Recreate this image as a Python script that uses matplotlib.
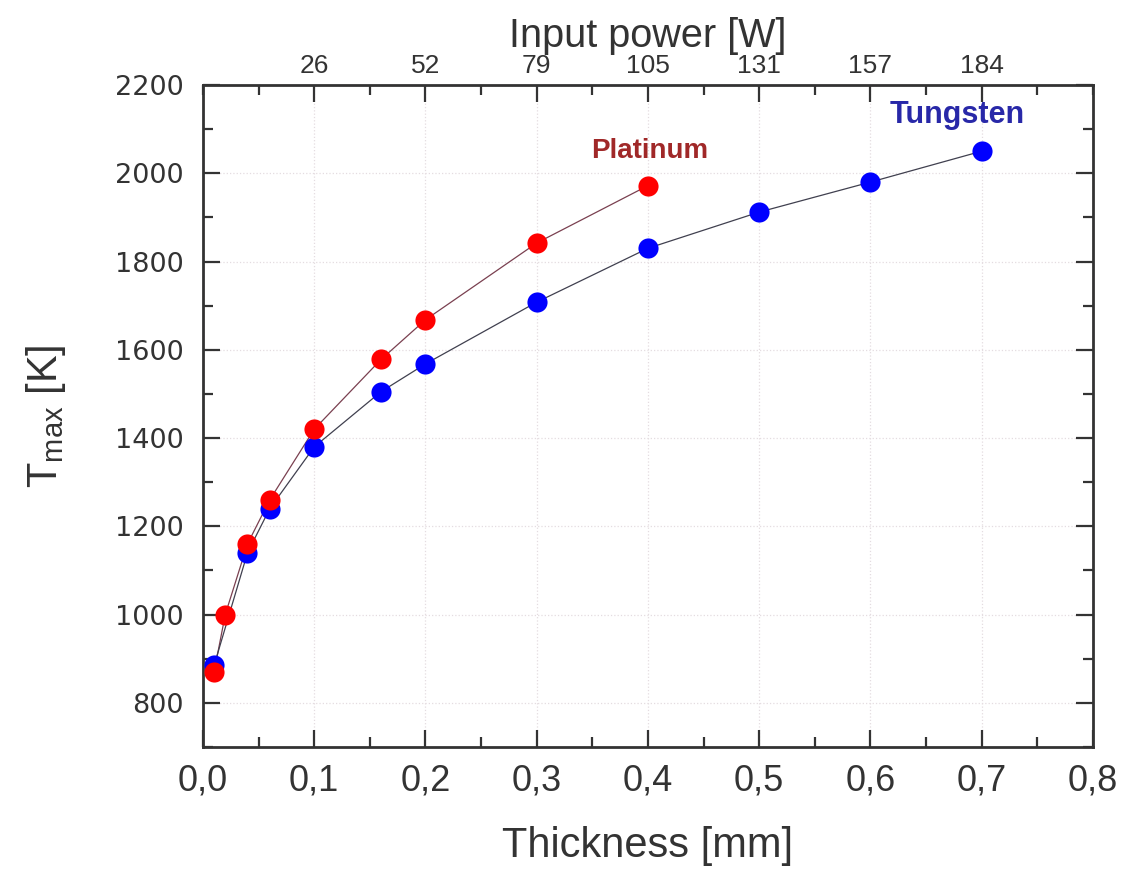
import matplotlib
matplotlib.use("Agg")
import matplotlib.pyplot as plt
from matplotlib import font_manager
from matplotlib.ticker import FixedLocator, MultipleLocator, FuncFormatter

# ── data ──────────────────────────────────────────────────────────────────────
pt_thickness = [0.01, 0.02, 0.04, 0.06, 0.10, 0.16, 0.20, 0.30, 0.40]
pt_tmax      = [870, 1000, 1160, 1260, 1420, 1578, 1668, 1842, 1972]

w_thickness  = [0.01, 0.04, 0.06, 0.10, 0.16, 0.20, 0.30, 0.40, 0.50, 0.60, 0.70]
w_tmax       = [885, 1140, 1240, 1380, 1505, 1568, 1708, 1830, 1912, 1980, 2050]

power_ticks  = [0.1, 0.2, 0.3, 0.4, 0.5, 0.6, 0.7]
power_labels = ["26", "52", "79", "105", "131", "157", "184"]

# ── fonts ─────────────────────────────────────────────────────────────────────
names = {f.name for f in font_manager.fontManager.ttflist}
SANS   = "Liberation Sans" if "Liberation Sans" in names else "DejaVu Sans"
NARROW = "Liberation Sans Narrow" if "Liberation Sans Narrow" in names else SANS
plt.rcParams["font.family"] = [SANS, "DejaVu Sans"]
plt.rcParams["mathtext.fontset"] = "custom"
plt.rcParams["mathtext.rm"] = SANS

TXT = "#333333"

fig = plt.figure(figsize=(11.24, 8.69), dpi=100)
ax = fig.add_axes([0.1806, 0.1404, 0.7918, 0.7618])

ax.plot(pt_thickness, pt_tmax, "-", color="#7a4050", lw=0.9, zorder=2)
ax.plot(w_thickness, w_tmax, "-", color="#40404f", lw=0.9, zorder=2)
ax.plot(w_thickness, w_tmax, "o", color="#0000ff", ms=14.5, mec="none", zorder=3)
ax.plot(pt_thickness, pt_tmax, "o", color="#ff0000", ms=14.5, mec="none", zorder=4)

ax.set_xlim(0, 0.8)
ax.set_ylim(700, 2200)
ax.xaxis.set_major_locator(MultipleLocator(0.1))
ax.xaxis.set_minor_locator(MultipleLocator(0.05))
ax.yaxis.set_major_locator(FixedLocator(range(800, 2201, 200)))
ax.yaxis.set_minor_locator(MultipleLocator(100))
ax.xaxis.set_major_formatter(FuncFormatter(lambda v, p: f"{v:.1f}".replace(".", ",")))

ax.grid(True, which="major", color="#e4dce0", lw=0.9, ls=":")
ax.set_axisbelow(True)

for s in ax.spines.values():
    s.set_linewidth(2.0)
    s.set_color(TXT)

ax.tick_params(which="both", direction="in", color=TXT, width=1.6,
               top=False, right=True, labelcolor=TXT)
ax.tick_params(which="major", length=12)
ax.tick_params(which="minor", length=7)
ax.tick_params(axis="x", which="major", pad=12)
ax.tick_params(axis="y", which="major", pad=14)

for lab in ax.get_xticklabels():
    lab.set_family(NARROW)
    lab.set_fontsize(26)
for lab in ax.get_yticklabels():
    lab.set_family("DejaVu Sans")
    lab.set_fontsize(19.5)

ax.set_xlabel("Thickness [mm]", fontsize=30, color=TXT, labelpad=20, family=NARROW)
ax.set_ylabel(r"T$_{\mathregular{max}}$ [K]", fontsize=30, color=TXT, labelpad=34)

# ── top axis: input power ─────────────────────────────────────────────────────
ax2 = ax.twiny()
ax2.set_xlim(ax.get_xlim())
ax2.xaxis.set_major_locator(FixedLocator(power_ticks))
ax2.xaxis.set_minor_locator(MultipleLocator(0.05))
ax2.set_xticklabels(power_labels)
ax2.tick_params(which="both", direction="in", color=TXT, width=1.6, labelcolor=TXT,
                labelsize=19, pad=5)
ax2.tick_params(which="major", length=12)
ax2.tick_params(which="minor", length=7)
for s in ax2.spines.values():
    s.set_visible(False)
ax2.set_xlabel("Input power [W]", fontsize=28.5, color=TXT, labelpad=5)

# ── series labels ─────────────────────────────────────────────────────────────
ax.text(0.349, 2050, "Platinum", color="#a02828", fontsize=20, fontweight="bold",
        ha="left", va="center", zorder=5)
ax.text(0.617, 2132, "Tungsten", color="#2828a8", fontsize=22, fontweight="bold",
        ha="left", va="center", zorder=5)

fig.savefig("out.png", dpi=100)
